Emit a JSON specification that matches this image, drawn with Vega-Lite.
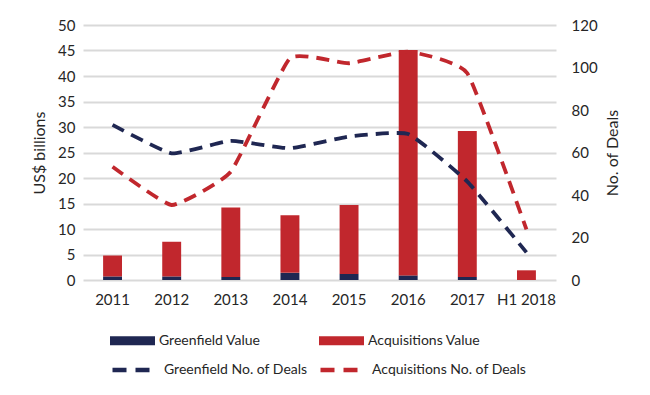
{
  "$schema": "https://vega.github.io/schema/vega-lite/v6.json",
  "width": 473,
  "height": 255,
  "autosize": {"type": "none"},
  "padding": {"left": 83, "top": 25, "right": 94, "bottom": 115},
  "background": "white",
  "config": {
    "font": "Lato",
    "view": {"stroke": null},
    "axis": {"labelFont": "Lato", "titleFont": "Lato", "labelColor": "#262626", "titleColor": "#262626", "labelFontSize": 15, "titleFontSize": 16, "titleFontWeight": "normal", "ticks": false, "domain": false},
    "legend": {"labelFont": "Lato", "labelFontSize": 14, "labelColor": "#262626", "labelLimit": 300}
  },
  "datasets": {
    "bars": [
      {"year": "2011", "series": "Greenfield Value", "value": 0.7},
      {"year": "2011", "series": "Acquisitions Value", "value": 4.1},
      {"year": "2012", "series": "Greenfield Value", "value": 0.7},
      {"year": "2012", "series": "Acquisitions Value", "value": 6.8},
      {"year": "2013", "series": "Greenfield Value", "value": 0.6},
      {"year": "2013", "series": "Acquisitions Value", "value": 13.6},
      {"year": "2014", "series": "Greenfield Value", "value": 1.4},
      {"year": "2014", "series": "Acquisitions Value", "value": 11.3},
      {"year": "2015", "series": "Greenfield Value", "value": 1.2},
      {"year": "2015", "series": "Acquisitions Value", "value": 13.5},
      {"year": "2016", "series": "Greenfield Value", "value": 0.9},
      {"year": "2016", "series": "Acquisitions Value", "value": 44.2},
      {"year": "2017", "series": "Greenfield Value", "value": 0.6},
      {"year": "2017", "series": "Acquisitions Value", "value": 28.6},
      {"year": "H1 2018", "series": "Greenfield Value", "value": 0.0},
      {"year": "H1 2018", "series": "Acquisitions Value", "value": 1.9}
    ],
    "lines": [
      {"year": "2011", "series": "Greenfield No. of Deals", "deals": 73},
      {"year": "2012", "series": "Greenfield No. of Deals", "deals": 59.6},
      {"year": "2013", "series": "Greenfield No. of Deals", "deals": 65.5},
      {"year": "2014", "series": "Greenfield No. of Deals", "deals": 62},
      {"year": "2015", "series": "Greenfield No. of Deals", "deals": 67.5},
      {"year": "2016", "series": "Greenfield No. of Deals", "deals": 68.7},
      {"year": "2017", "series": "Greenfield No. of Deals", "deals": 46.3},
      {"year": "H1 2018", "series": "Greenfield No. of Deals", "deals": 13},
      {"year": "2011", "series": "Acquisitions No. of Deals", "deals": 53.3},
      {"year": "2012", "series": "Acquisitions No. of Deals", "deals": 35.3},
      {"year": "2013", "series": "Acquisitions No. of Deals", "deals": 51},
      {"year": "2014", "series": "Acquisitions No. of Deals", "deals": 104.3},
      {"year": "2015", "series": "Acquisitions No. of Deals", "deals": 102},
      {"year": "2016", "series": "Acquisitions No. of Deals", "deals": 107.4},
      {"year": "2017", "series": "Acquisitions No. of Deals", "deals": 97.3},
      {"year": "H1 2018", "series": "Acquisitions No. of Deals", "deals": 23.8}
    ]
  },
  "encoding": {
    "x": {
      "field": "year", "type": "nominal", "sort": null,
      "scale": {"paddingInner": 0.68, "paddingOuter": 0.34},
      "axis": {"title": null, "labelAngle": 0, "labelPadding": 12, "grid": false}
    }
  },
  "layer": [
    {
      "data": {"name": "bars"},
      "mark": {"type": "bar"},
      "encoding": {
        "y": {
          "field": "value", "type": "quantitative", "stack": "zero",
          "scale": {"domain": [0, 50]},
          "axis": {"title": "US$ billions", "values": [0,5,10,15,20,25,30,35,40,45,50], "grid": true, "gridColor": "#d9d9d9", "gridWidth": 2, "labelPadding": 8, "titlePadding": 10}
        },
        "fill": {
          "field": "series", "type": "nominal",
          "scale": {"domain": ["Greenfield Value", "Acquisitions Value"], "range": ["#1f2752", "#c1272d"]},
          "legend": {"orient": "none", "legendX": 27, "legendY": 293, "direction": "horizontal", "columns": 2, "title": null, "symbolType": "M-1,-0.2H1V0.2H-1Z", "symbolSize": 2025, "symbolStrokeWidth": 0, "labelOffset": 4, "columnPadding": 58}
        },
        "order": {"field": "series", "sort": "descending"}
      }
    },
    {
      "data": {"name": "lines"},
      "mark": {"type": "line", "interpolate": "cardinal", "tension": 0.6, "strokeWidth": 3.8, "strokeDash": [13, 8]},
      "encoding": {
        "y": {
          "field": "deals", "type": "quantitative",
          "scale": {"domain": [0, 120]},
          "axis": {"title": "No. of Deals", "orient": "right", "titleAngle": 270, "values": [0,20,40,60,80,100,120], "grid": false, "labelPadding": 15, "titlePadding": 23}
        },
        "stroke": {
          "field": "series", "type": "nominal",
          "scale": {"domain": ["Greenfield No. of Deals", "Acquisitions No. of Deals"], "range": ["#1f2752", "#c1272d"]},
          "legend": {"orient": "none", "legendX": 27, "legendY": 320, "direction": "horizontal", "columns": 2, "title": null, "symbolType": "stroke", "symbolSize": 2025, "symbolStrokeWidth": 4.5, "symbolDash": [14, 9], "labelOffset": 4, "columnPadding": 3}
        }
      }
    }
  ],
  "resolve": {"scale": {"y": "independent"}}
}
